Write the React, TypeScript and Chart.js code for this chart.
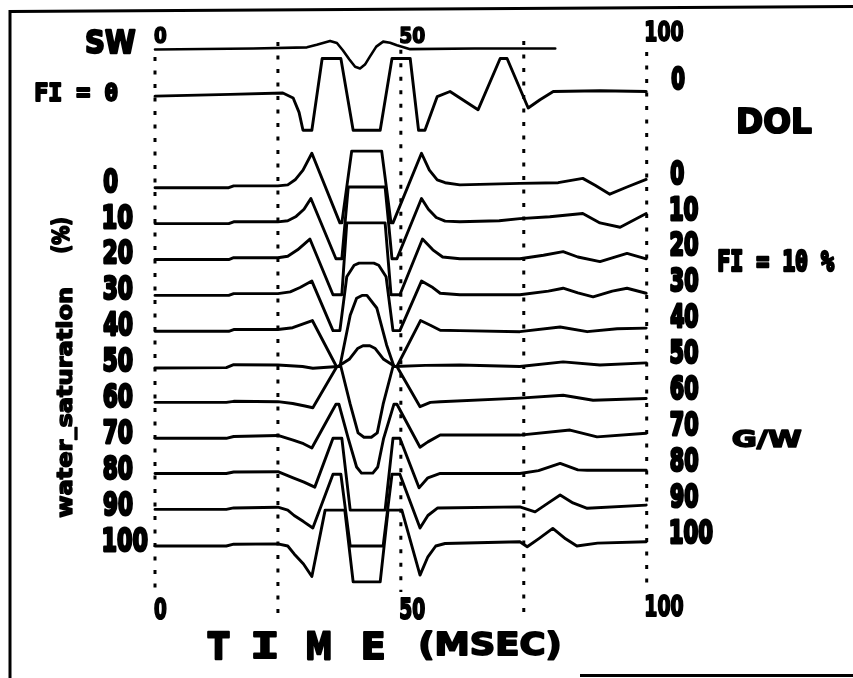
import React, { useEffect, useRef } from "react";
import { Chart, registerables } from "chart.js";

Chart.register(...registerables);

// ---- axis / labels ----
const timeTickValues = [0, 50, 100];
const timeTickLabels = ["0", "50", "100"];
const gridTimes = [0, 25, 50, 75, 100];
const gridTop = [3.62, 4.04, 3.82, 4.07, 3.76];
const gridBottom = [-11.23, -11.98, -11.28, -11.92, -11.14];

const saturationLabels = ["0", "10", "20", "30", "40", "50", "60", "70", "80", "90", "100"];
const saturationBaselines = [0, -1, -2, -3, -4, -5, -6, -7, -8, -9, -10];

const swBaseline = 3.86;
const fi0Baseline = 2.58;

// ---- traces: [time (msec), amplitude (trace spacing units)] ----
const swWavelet: number[][] = [[0, -0.03], [20, 0.0], [30.9, 0.03], [32.9, 0.1], [35.6, 0.21], [37.0, 0.15], [38.2, -0.05], [39.5, -0.3], [40.7, -0.51], [41.7, -0.56], [42.7, -0.45], [43.7, -0.23], [45.0, 0.05], [46.4, 0.19], [47.8, 0.16], [49.2, 0.09], [51.9, -0.02], [65, 0.0], [81.4, 0.0]];

const fi0Trace: number[][] = [[0, -0.05], [15.3, 0.0], [26.0, 0.04], [28.1, -0.1], [29.3, -0.5], [30.1, -1], [31.9, -1], [34.0, 1], [37.8, 1], [40.3, -1], [45.8, -1], [48.2, 1], [51.9, 1], [53.6, -1], [54.9, -1], [57.4, -0.06], [60.0, 0.08], [65.7, -0.43], [70.2, 1], [71.6, 1], [75.9, -0.38], [78.3, -0.15], [81.0, 0.08], [90.5, 0.1], [99.9, 0.08]];

const traceSw0: number[][] = [[0, -0.02], [15, -0.02], [16, 0.03], [25, 0.03], [27, 0.06], [28.5, 0.2], [30.1, 0.47], [31.9, 0.94], [37.6, -1], [38.0, -1], [40.0, 1], [46.1, 1], [48.0, -1], [48.4, -1], [54.2, 0.94], [55.8, 0.47], [57.4, 0.2], [59, 0.12], [62, 0.06], [74.2, 0.1], [82, 0.12], [87, 0.24], [89.5, 0.05], [92.5, -0.2], [96, 0.0], [99.9, 0.21]];
const traceSw10: number[][] = [[0, -0.02], [15, -0.02], [16, 0.03], [25, 0.03], [27, 0.06], [28.7, 0.18], [30.3, 0.38], [31.7, 0.68], [36.8, -1], [38.0, -1], [39.3, 1], [46.8, 1], [48.2, -1], [49.2, -1], [54.2, 0.68], [55.6, 0.38], [57.2, 0.15], [59, 0.05], [62, 0.03], [70, 0.06], [74.2, 0.12], [80.3, 0.17], [87, 0.26], [90.5, 0.0], [94.6, -0.12], [99.9, 0.26]];
const traceSw20: number[][] = [[0, -0.02], [15, -0.02], [16, 0.03], [25, 0.03], [27, 0.07], [29, 0.25], [31.5, 0.55], [36.2, -1], [38.0, -1], [39.0, 1], [46.8, 1], [48.0, -1], [49.8, -1], [54.4, 0.55], [56.5, 0.25], [58.5, 0.05], [62, 0.0], [74.2, 0.0], [79, 0.1], [83, 0.2], [86, 0.05], [90.5, -0.08], [96, 0.15], [99.9, 0.0]];
const traceSw30: number[][] = [[0, -0.02], [15, -0.02], [16, 0.03], [25, 0.03], [27.5, 0.08], [29.5, 0.2], [31.9, 0.38], [36.2, -1], [37.6, -1], [39.0, 0.5], [40.5, 0.82], [41.5, 0.88], [44.5, 0.88], [45.5, 0.82], [47.0, 0.5], [48.4, -1], [49.8, -1], [54.2, 0.38], [56.5, 0.2], [58.0, 0.04], [62, 0.0], [74.2, 0.0], [80, 0.1], [83, 0.18], [86, 0.05], [89.1, -0.06], [93, 0.1], [96, 0.18], [99.9, 0.04]];
const traceSw40: number[][] = [[0, -0.02], [15, -0.02], [16, 0.03], [25, 0.03], [28, 0.08], [30, 0.18], [32, 0.28], [36.9, -1], [37.6, -1], [39.7, 0.43], [41.0, 0.9], [42.1, 0.98], [43.1, 0.98], [45.1, 0.63], [47.1, -0.4], [48.6, -1], [49.2, -1], [54.0, 0.28], [56, 0.15], [58, 0.01], [62, 0.0], [74.2, -0.03], [82.4, 0.1], [87.9, -0.03], [94, 0.05], [99.9, 0.07]];
const traceSw50: number[][] = [[0, -0.04], [14.5, -0.03], [16, 0.05], [25, 0.04], [30, 0.0], [32.1, -0.05], [37.2, 0.0], [39.5, 0.2], [41.2, 0.5], [42.3, 0.58], [43.7, 0.58], [44.8, 0.5], [46.5, 0.2], [48.8, 0.0], [55, 0.03], [62, 0.04], [74.2, 0.0], [83, 0.13], [90.5, 0.04], [99.9, 0.1]];
const traceSw60: number[][] = [[0, 0.0], [14.5, 0.0], [16, 0.03], [25, 0.02], [28, -0.03], [30.5, -0.1], [32.1, -0.15], [37.0, 1], [37.8, 1], [39.7, -0.05], [41.3, -0.85], [42.5, -0.97], [44.0, -0.97], [45.2, -0.85], [46.4, -0.05], [48.4, 1], [49.2, 1], [53.9, -0.12], [56, 0.0], [58, 0.02], [74.2, 0.12], [83, 0.2], [89.1, 0.06], [99.9, 0.11]];
const traceSw70: number[][] = [[0, 0.0], [14.5, 0.0], [16, 0.05], [25, 0.08], [28.1, -0.05], [30.2, -0.15], [31.9, -0.27], [36.8, 0.95], [37.4, 0.95], [39.3, 0.0], [41.0, -0.8], [42.0, -0.97], [44.3, -0.97], [45.3, -0.8], [46.5, 0.0], [48.6, 0.95], [49.2, 0.95], [53.9, -0.25], [55.5, -0.1], [58, 0.09], [74.2, 0.09], [84.4, 0.23], [89.9, 0.04], [99.9, 0.14]];
const traceSw80: number[][] = [[0, 0.02], [14.5, 0.02], [16, 0.06], [25, 0.07], [28.1, -0.1], [30.3, -0.22], [32.5, -0.36], [36.2, 1], [38.0, 1], [39.7, -1], [46.8, -1], [48.4, 1], [49.8, 1], [53.7, -0.38], [55.5, -0.1], [58, 0.02], [74.2, 0.02], [78, 0.1], [82.4, 0.3], [86, 0.12], [87.9, 0.11], [99.9, 0.11]];
const traceSw90: number[][] = [[0, 0.02], [14.5, 0.02], [16, 0.06], [25, 0.08], [27, 0.0], [28.3, -0.15], [30.2, -0.32], [32.1, -0.5], [36.2, 1], [37.8, 1], [39.7, -1], [46.4, -1], [48.2, 1], [49.8, 1], [53.9, -0.5], [55.5, -0.15], [57.5, 0.06], [74.2, 0.09], [77.3, -0.05], [80, 0.2], [82.4, 0.42], [85, 0.2], [87.9, 0.05], [99.9, 0.14]];
const traceSw100: number[][] = [[0, 0.0], [14.5, 0.0], [16, 0.05], [25, 0.06], [27, 0.0], [28.3, -0.22], [30.2, -0.5], [31.9, -0.85], [34.6, 1], [38.6, 1], [40.3, -1], [45.8, -1], [47.4, 1], [50.2, 1], [53.9, -0.81], [55.5, -0.3], [57.1, 0.0], [59, 0.07], [74.2, 0.12], [75.7, -0.02], [78, 0.2], [80.9, 0.49], [83.5, 0.2], [85.8, 0.0], [90, 0.08], [99.9, 0.12]];

const fi10Traces = [traceSw0, traceSw10, traceSw20, traceSw30, traceSw40, traceSw50, traceSw60, traceSw70, traceSw80, traceSw90, traceSw100];

const INK = "#000000";
const SANS = "'DejaVu Sans'";
const MONO = "'DejaVu Sans Mono'";

function drawFit(
  ctx: CanvasRenderingContext2D,
  text: string,
  left: number,
  cy: number,
  w: number,
  h: number,
  family: string,
  weight = 1.2,
  rotate = false
) {
  ctx.save();
  ctx.font = `bold 100px ${family}`;
  ctx.textAlign = "left";
  ctx.textBaseline = "alphabetic";
  const m = ctx.measureText(text);
  const asc = m.actualBoundingBoxAscent;
  const desc = m.actualBoundingBoxDescent;
  const tw = m.actualBoundingBoxRight + m.actualBoundingBoxLeft;
  const th = asc + desc;
  const w2 = Math.max(1, w - weight);
  const h2 = Math.max(1, h - weight);
  const cx = left + weight / 2;
  ctx.translate(cx, cy);
  if (rotate) ctx.rotate(-Math.PI / 2);
  const sx = w2 / tw;
  const sy = h2 / th;
  ctx.scale(sx, sy);
  ctx.fillStyle = INK;
  ctx.strokeStyle = INK;
  ctx.lineJoin = "round";
  const x0 = m.actualBoundingBoxLeft;
  const y0 = (asc - desc) / 2;
  ctx.fillText(text, x0, y0);
  if (weight > 0) {
    ctx.lineWidth = weight / sx;
    ctx.strokeText(text, x0, y0);
  }
  ctx.restore();
}

const toPts = (arr: number[][], base: number) => arr.map((p) => ({ x: p[0], y: base + p[1] }));

const annotations = {
  id: "annotations",
  afterDraw(chart: any) {
    const ctx: CanvasRenderingContext2D = chart.ctx;
    const xs = chart.scales.x;
    const ys = chart.scales.y;
    // frame
    ctx.save();
    ctx.strokeStyle = INK;
    ctx.lineWidth = 3;
    ctx.beginPath();
    ctx.moveTo(10, 678);
    ctx.lineTo(10, 11.5);
    ctx.lineTo(853, 6.5);
    ctx.stroke();
    ctx.beginPath();
    ctx.moveTo(580, 675.5);
    ctx.lineTo(853, 675.5);
    ctx.stroke();
    ctx.restore();

    // time tick labels (top and bottom)
    timeTickValues.forEach((t, i) => {
      const px = xs.getPixelForValue(t) - 1;
      const lab = timeTickLabels[i];
      const w = lab.length * 12.6;
      drawFit(ctx, lab, px, lab.length === 3 ? 31 : 35, w, lab.length === 3 ? 22 : 17, SANS, 1.4);
      drawFit(ctx, lab, px, lab.length === 3 ? 605 : 608, w, 23, SANS, 1.4);
    });

    // saturation labels left and right
    saturationLabels.forEach((lab, i) => {
      const py = ys.getPixelForValue(saturationBaselines[i]);
      drawFit(ctx, lab, 103, py - 7, lab.length * 15, 26, SANS, 2);
      drawFit(ctx, lab, 670, py - 15, lab.length * 14.3, 26, SANS, 2);
    });
    const pyFi0 = ys.getPixelForValue(fi0Baseline);
    drawFit(ctx, "0", 671, pyFi0 - 17, 14, 25, SANS, 2);

    // titles
    drawFit(ctx, "SW", 86, 41, 50, 26, SANS, 2);
    drawFit(ctx, "FI = 0", 35, 92, 83, 21, MONO, 2);
    drawFit(ctx, "DOL", 738, 121, 74, 27, SANS, 2);
    drawFit(ctx, "FI = 10 %", 718, 260, 117, 24, MONO, 2);
    drawFit(ctx, "G/W", 732, 439, 70, 22, SANS, 2);
    drawFit(ctx, "T", 207, 645, 23, 29, SANS, 2);
    drawFit(ctx, "I", 253, 645, 24, 29, MONO, 2.5);
    drawFit(ctx, "M", 307, 645, 24, 29, SANS, 2);
    drawFit(ctx, "E", 363, 645, 21, 29, SANS, 2);
    drawFit(ctx, "(MSEC)", 420, 645, 140, 31, SANS, 2);

    // vertical axis title
    drawFit(ctx, "water_saturation", 66, 517, 230, 22, SANS, 1.6, true);
    drawFit(ctx, "(%)", 61, 252, 35, 22, SANS, 1.6, true);
  },
};

export default function App() {
  const ref = useRef<HTMLCanvasElement | null>(null);

  useEffect(() => {
    document.body.style.margin = "0";
    const canvas = ref.current;
    if (!canvas) return;

    const datasets: any[] = [];
    gridTimes.forEach((t, i) => {
      datasets.push({
        data: [{ x: t, y: gridTop[i] }, { x: t, y: gridBottom[i] }],
        borderColor: INK,
        borderWidth: 3,
        borderDash: [4, 9.5],
        borderCapStyle: "butt",
        pointRadius: 0,
        clip: false,
      });
    });
    datasets.push({
      data: toPts(swWavelet, swBaseline),
      borderColor: INK,
      borderWidth: 2.6,
      pointRadius: 0,
      clip: false,
    });
    datasets.push({
      data: toPts(fi0Trace, fi0Baseline),
      borderColor: INK,
      borderWidth: 2.9,
      pointRadius: 0,
      clip: false,
    });
    fi10Traces.forEach((tr, i) => {
      datasets.push({
        data: toPts(tr, saturationBaselines[i]),
        borderColor: INK,
        borderWidth: 2.9,
        pointRadius: 0,
        clip: false,
      });
    });

    const chart = new Chart(canvas, {
      type: "line",
      data: { datasets },
      options: {
        animation: false,
        responsive: false,
        devicePixelRatio: 1,
        layout: { padding: { left: 155, right: 206.3, top: 25.45, bottom: 42.25 } },
        elements: { line: { tension: 0, borderJoinStyle: "round", borderCapStyle: "round" } },
        scales: {
          x: { type: "linear", min: 0, max: 100, display: false },
          y: { type: "linear", min: -12.5, max: 4.5, display: false },
        },
        plugins: { legend: { display: false }, tooltip: { enabled: false }, title: { display: false } },
      },
      plugins: [annotations],
    });
    return () => chart.destroy();
  }, []);

  return (
    <div style={{ width: 853, height: 678, background: "#ffffff" }}>
      <canvas ref={ref} width={853} height={678} style={{ display: "block" }} />
    </div>
  );
}
